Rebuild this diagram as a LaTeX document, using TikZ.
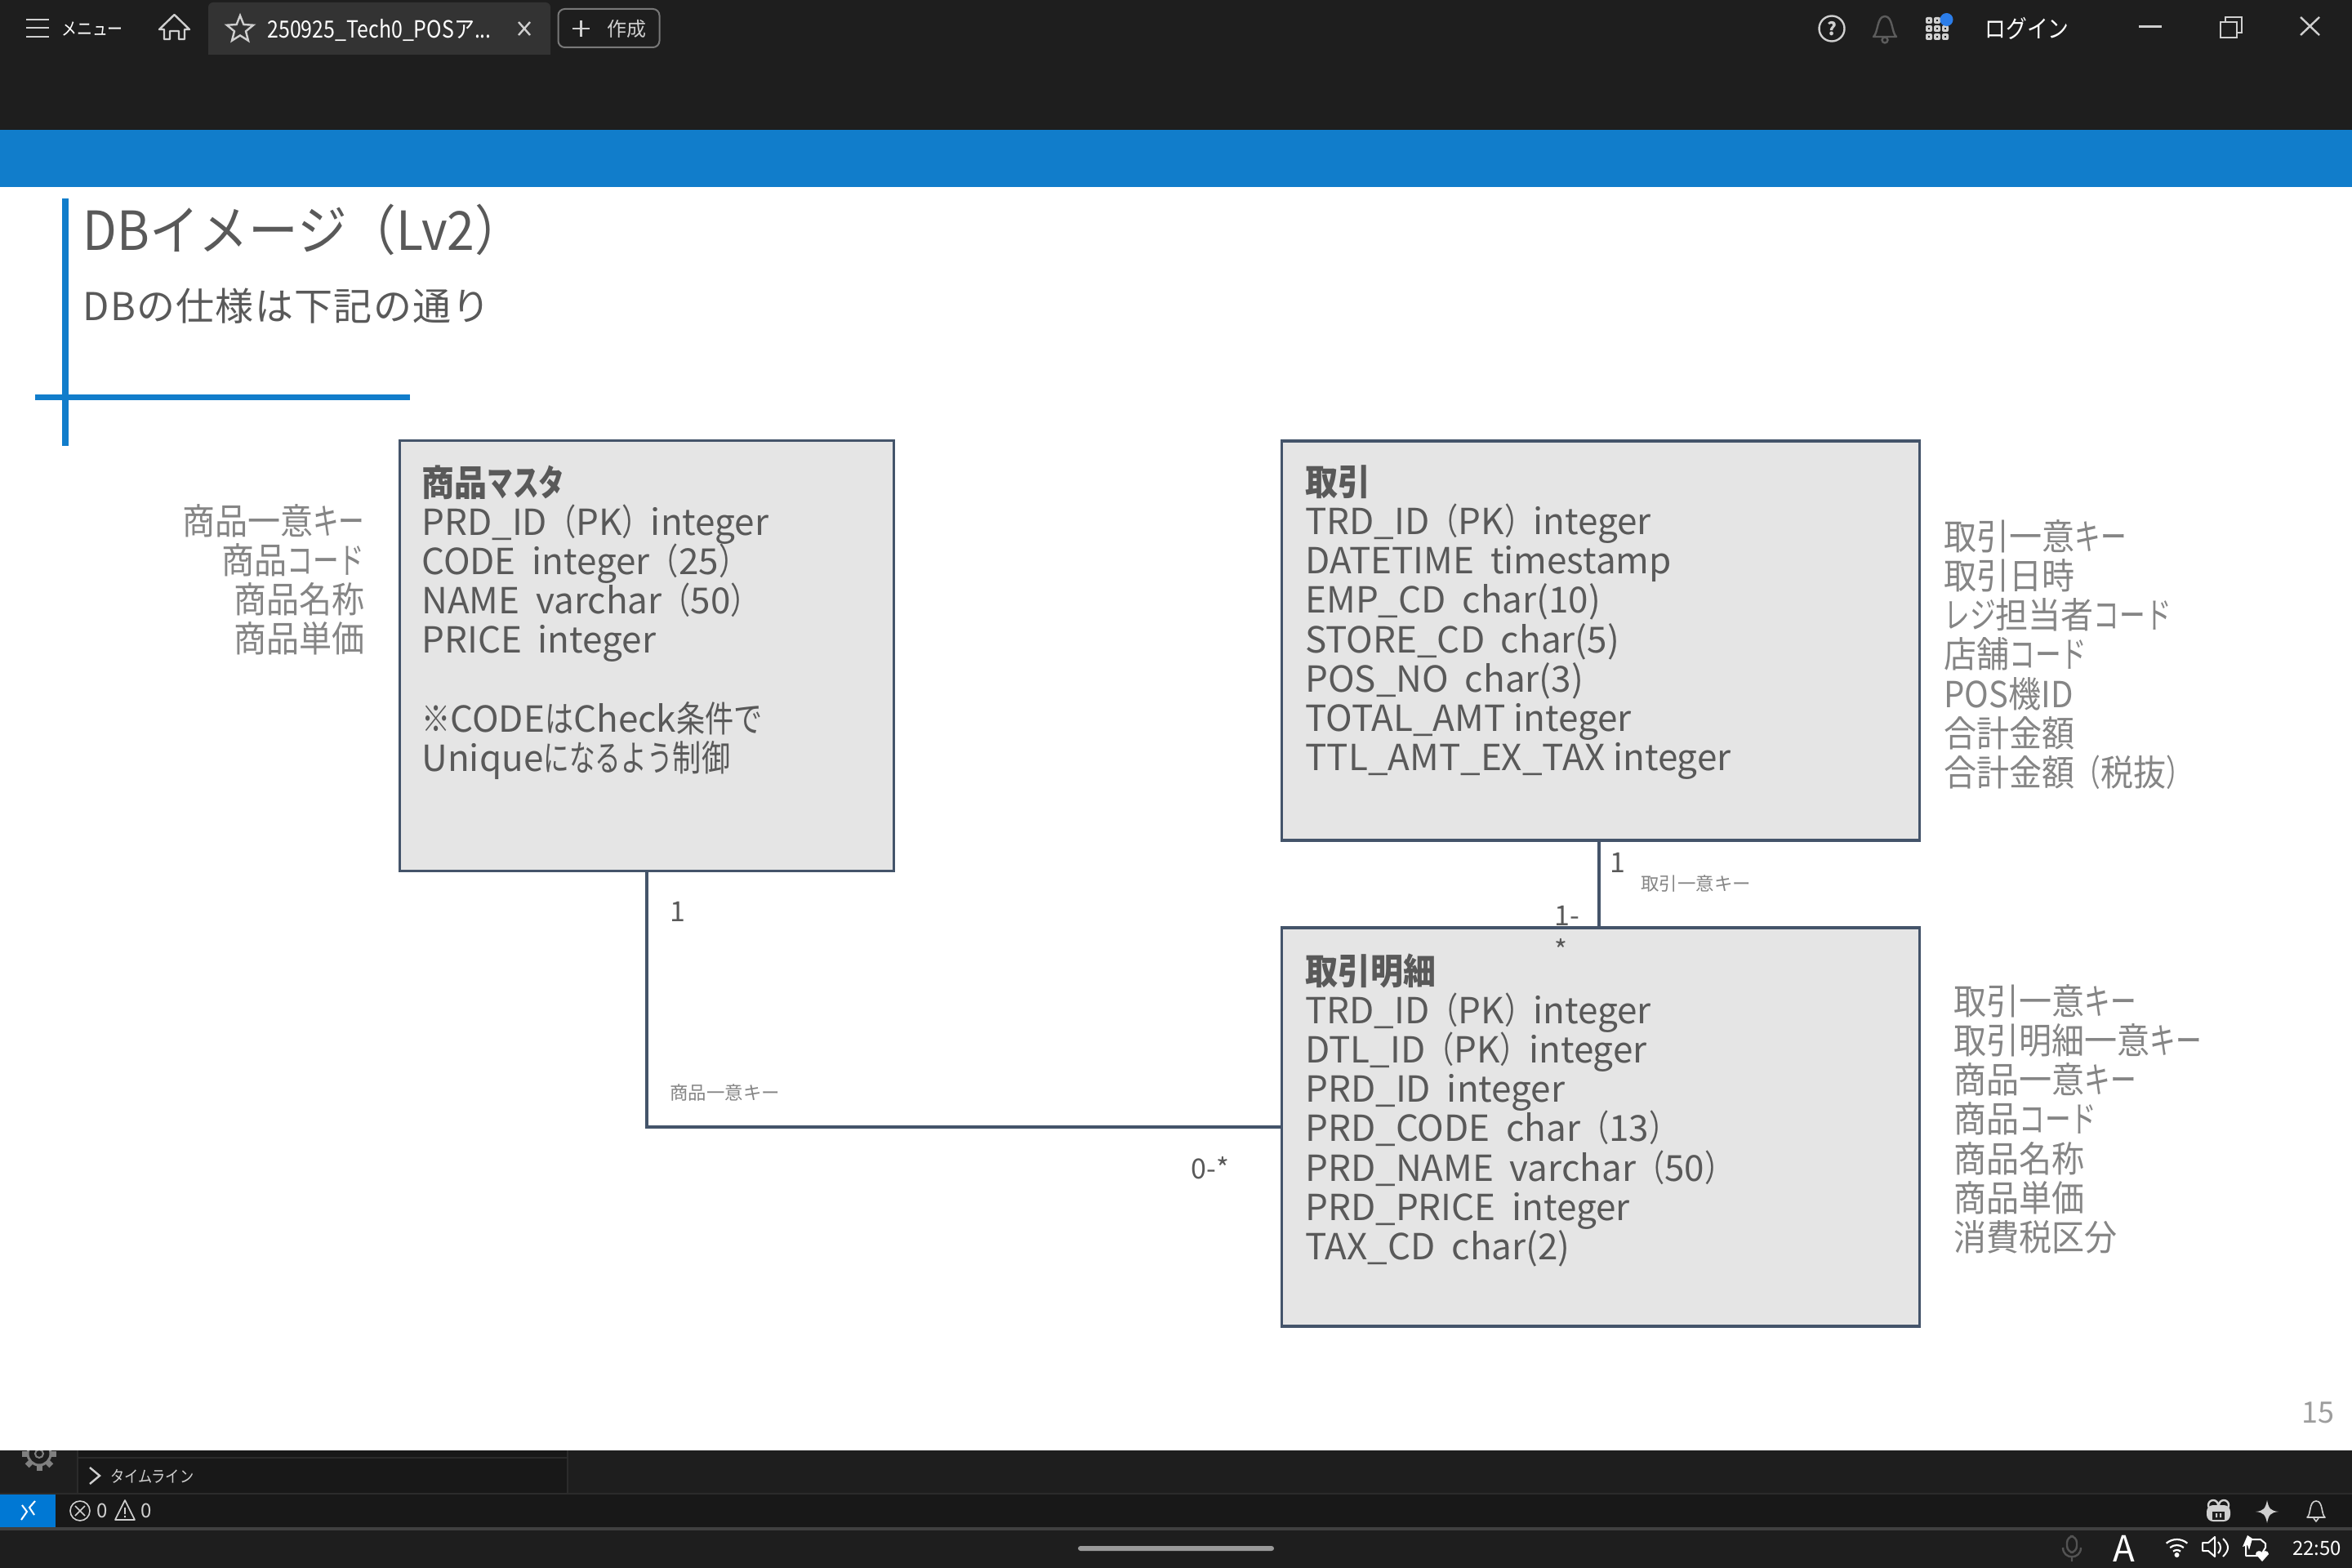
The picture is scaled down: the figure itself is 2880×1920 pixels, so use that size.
\documentclass[tikz,border=0pt]{standalone}
\usepackage{fontspec}
\setmainfont{Noto Sans CJK JP}
\newfontfamily\keyfont[FakeStretch=0.91]{Noto Sans CJK JP}
\newfontfamily\jpfont[FakeStretch=0.8]{Noto Sans CJK JP}
\newfontfamily\kanafont[FakeStretch=0.72]{Noto Sans CJK JP}
\newfontfamily\uifont[FakeStretch=0.86]{Noto Sans CJK JP}
\newfontfamily\titlefont[FakeStretch=0.92]{Noto Sans CJK JP}
\newfontfamily\subfont[LetterSpace=2.8]{Noto Sans CJK JP}
\newcommand{\jp}[1]{{\jpfont #1}}
\newcommand{\kana}[1]{{\kanafont #1}}
\usetikzlibrary{positioning,shapes.geometric}
\definecolor{uidark}{HTML}{1E1E1E}
\definecolor{uipanel}{HTML}{181818}
\definecolor{uitab}{HTML}{333333}
\definecolor{uirule}{HTML}{2B2B2B}
\definecolor{uisep}{HTML}{404040}
\definecolor{uiicon}{HTML}{CFCFCF}
\definecolor{uidot}{HTML}{2B7DE9}
\definecolor{slideblue}{HTML}{117DCB}
\definecolor{statusblue}{HTML}{0078D4}
\definecolor{boxfill}{HTML}{E5E5E5}
\definecolor{boxline}{HTML}{44546A}
\definecolor{bodytext}{HTML}{595959}
\definecolor{notetext}{HTML}{858585}
\tikzset{
    erbox/.style={draw=boxline, line width=1.6pt, fill=boxfill, inner sep=0pt},
    relline/.style={draw=boxline, line width=1.6pt},
    boxtext/.style={anchor=north west, align=left, inner sep=0pt, text=bodytext, font={\fontsize{22}{24.1}\selectfont\lineskiplimit=-100pt}},
    keytext/.style={anchor=north west, align=left, inner sep=0pt, text=notetext, font={\keyfont\fontsize{22}{24.1}\selectfont\lineskiplimit=-100pt}},
    keyright/.style={keytext, anchor=north east, align=right},
    cardtext/.style={inner sep=0pt, text=bodytext, font=\fontsize{17}{20}\selectfont},
    reltext/.style={inner sep=0pt, text=notetext, font=\fontsize{11.2}{13}\selectfont},
    uitext/.style={inner sep=0pt, text=white},
    uiline/.style={draw=uiicon, line width=1.2pt},
}
\begin{document}
\begin{tikzpicture}[x=0.5pt, y=-0.5pt]
    \useasboundingbox (0,0) rectangle (2880,1920);
    \fill[white] (0,0) rectangle (2880,1920);

    \fill[uidark] (0,0) rectangle (2880,159);
    \fill[slideblue] (0,159) rectangle (2880,229);
    \fill[uitab, rounded corners=3pt] (255,3) rectangle (674,80);
    \fill[uidark] (250,67) rectangle (680,80);
    \foreach \y in {24,34,45}
        \draw[uiline] (32,\y) -- (60,\y);
    \node[uitext, font=\uifont\fontsize{11}{13}\selectfont] (menulabel) at (113,35) {メニュー};
    \draw[uiline, line join=round] (213.5,18) -- (195,36) -- (201,36) -- (201,48) -- (208,48) -- (208,38) -- (219,38) -- (219,48) -- (226,48) -- (226,36) -- (232,36) -- cycle;
    \node[star, star points=5, star point ratio=2.3, draw=uiicon, line width=1.2pt, minimum size=17pt, inner sep=0pt] (tabstar) at (294,36) {};
    \node[uitext, font=\uifont\fontsize{14.5}{17}\selectfont, anchor=west] (tabtitle) at (327,37) {250925\_Tech0\_POSア...};
    \draw[uiline] (635,27) -- (649,43) (649,27) -- (635,43);
    \node[draw=white!40!uidark, line width=1pt, rounded corners=4pt, minimum width=62pt, minimum height=23.5pt, inner sep=0pt] (newbutton) at (745.5,34.5) {};
    \draw[uiline] (701,35) -- (722,35) (711.5,25) -- (711.5,45);
    \node[uitext, text=uiicon, font=\fontsize{12}{14}\selectfont] (newlabel) at (767,35) {作成};

    \draw[uiline] (2243,35) circle (15.5);
    \node[uitext, text=uiicon, font=\fontsize{11}{13}\selectfont\bfseries] (helpmark) at (2243,35) {?};
    \draw[draw=uiicon!35!uidark, line width=1.2pt, line join=round] (2294,45) .. controls (2300,40) and (2298,20) .. (2308,20) .. controls (2318,20) and (2316,40) .. (2322,45) -- cycle;
    \draw[draw=uiicon!35!uidark, line width=1.2pt] (2308,49) circle (3.5);
    \foreach \x in {2362,2372,2382}
        \foreach \y in {25,35,45} {
            \fill[uiicon, rounded corners=1pt] (\x-4,\y-4) rectangle (\x+4,\y+4);
            \fill[uidark] (\x-1,\y-1) rectangle (\x+1,\y+1);
        }
    \fill[uidot] (2383.5,24) circle (8);
    \node[uitext, font=\uifont\fontsize{15}{17}\selectfont] (loginlabel) at (2482,35) {ログイン};
    \draw[uiline, line width=1.5pt] (2619,33) -- (2647,33);
    \draw[uiline] (2719,27) rectangle (2739,46) (2725,27) -- (2725,21) -- (2745,21) -- (2745,40) -- (2739,40);
    \draw[uiline] (2817,21) -- (2840,43) (2840,21) -- (2817,43);

    \draw[slideblue, line width=3.7pt] (80,243) -- (80,546);
    \draw[slideblue, line width=3.5pt] (43,486.5) -- (502,486.5);
    \node[anchor=west, inner sep=0pt, text=bodytext, font=\titlefont\fontsize{33}{40}\selectfont] (slidetitle) at (101,281) {DBイメージ（Lv2）};
    \node[anchor=west, inner sep=0pt, text=bodytext, font=\subfont\fontsize{23.5}{28}\selectfont] (slidesub) at (101,375) {DBの仕様は下記の通り};

    \node[erbox, minimum width=302.5pt, minimum height=263.5pt] (mst) at (792,803) {};
    \node[erbox, minimum width=390.5pt, minimum height=244.5pt] (trd) at (1960,784.5) {};
    \node[erbox, minimum width=390.5pt, minimum height=244pt] (dtl) at (1960,1380) {};
    \draw[relline] (mst.south) |- (dtl.west);
    \draw[relline] ([xshift=-1pt]trd.south) -- ([xshift=-1pt]dtl.north);

    \node[boxtext] (msttext) at (516,569) {{\keyfont\bfseries 商品{\kanafont\bfseries マスタ}}\\PRD\_ID\jp{（}PK\jp{）}integer\\CODE\ \ integer\jp{（}25\jp{）}\\NAME\ \ varchar\jp{（}50\jp{）}\\PRICE\ \ integer\\[24.1pt]\jp{※}CODE\jp{は}Check\jp{条件で}\\Unique\kana{になるよう}\jp{制御}};
    \node[boxtext] (trdtext) at (1598,569) {{\keyfont\bfseries 取引}\\TRD\_ID\jp{（}PK\jp{）}integer\\DATETIME\ \ timestamp\\EMP\_CD\ \ char(10)\\STORE\_CD\ \ char(5)\\POS\_NO\ \ char(3)\\TOTAL\_AMT integer\\TTL\_AMT\_EX\_TAX integer};
    \node[boxtext] (dtltext) at (1598,1167) {{\keyfont\bfseries 取引明細}\\TRD\_ID\jp{（}PK\jp{）}integer\\DTL\_ID\jp{（}PK\jp{）}integer\\PRD\_ID\ \ integer\\PRD\_CODE\ \ char\jp{（}13\jp{）}\\PRD\_NAME\ \ varchar\jp{（}50\jp{）}\\PRD\_PRICE\ \ integer\\TAX\_CD\ \ char(2)};

    \node[keyright] (mstkeys) at (447,617) {商品一意\kana{キー}\\商品\kana{コード}\\商品名称\\商品単価};
    \node[keytext] (trdkeys) at (2380,636) {取引一意\kana{キー}\\取引日時\\\kana{レジ}担当者\kana{コード}\\店舗\kana{コード}\\POS機ID\\合計金額\\合計金額\kana{（}税抜\kana{）}};
    \node[keytext] (dtlkeys) at (2392,1205) {取引一意\kana{キー}\\取引明細一意\kana{キー}\\商品一意\kana{キー}\\商品\kana{コード}\\商品名称\\商品単価\\消費税区分};

    \node[cardtext] (mstone) at (830,1116) {1};
    \node[reltext, anchor=west] (mstrel) at (820,1338) {商品一意キー};
    \node[cardtext] (dtlmany) at (1482,1430) {0-*};
    \node[cardtext] (trdone) at (1981,1056) {1};
    \node[reltext, anchor=west] (trdrel) at (2009,1082) {取引一意キー};
    \node[cardtext, anchor=west] (dtlone) at (1903,1121) {1-};
    \node[cardtext, anchor=west] (dtlstar) at (1903,1163) {*};
    \node[inner sep=0pt, text=notetext!80!white, font=\fontsize{18}{20}\selectfont] (pageno) at (2838,1730) {15};

    \fill[uidark] (0,1776) rectangle (2880,1920);
    \fill[uipanel] (95,1776) rectangle (695,1829);
    \draw[uirule, line width=1pt] (95,1776) -- (95,1829) (695,1776) -- (695,1829) (95,1785) -- (695,1785);
    \fill[uipanel] (0,1830) rectangle (2880,1870);
    \draw[uirule, line width=1pt] (0,1829) -- (2880,1829);
    \draw[uisep, line width=2pt] (0,1872) -- (2880,1872);
    \fill[statusblue] (0,1830) rectangle (68,1870);
    \begin{scope}
        \clip (0,1776) rectangle (95,1810);
        \draw[gray, line width=1.5pt] (48,1780) circle (14);
        \draw[gray, line width=1pt] (48,1780) circle (5);
        \foreach \a in {0,45,...,315}
            \draw[gray, line width=3.5pt] (48,1780) ++(\a:7pt) -- ++(\a:3.5pt);
    \end{scope}
    \draw[uiline] (110,1797) -- (122,1807) -- (110,1817);
    \node[uitext, text=uiicon, font=\uifont\fontsize{10}{12}\selectfont, anchor=west] (timelabel) at (135,1808) {タイムライン};
    \draw[draw=white, line width=1pt] (26,1861) -- (33,1851) -- (27,1843) (43,1838) -- (36,1846) -- (42,1855);
    \draw[uiline, line width=0.8pt] (98,1850) circle (12) (92,1844) -- (104,1856) (104,1844) -- (92,1856);
    \node[uitext, text=uiicon, font=\fontsize{12}{14}\selectfont] (errcount) at (125,1850) {0};
    \draw[uiline, line width=0.8pt, line join=round] (153,1837) -- (165,1861) -- (141,1861) -- cycle (153,1846) -- (153,1854) (153,1856) -- (153,1858);
    \node[uitext, text=uiicon, font=\fontsize{12}{14}\selectfont] (warncount) at (179,1850) {0};
    \fill[uiicon, rounded corners=4pt] (2702,1843) rectangle (2731,1863);
    \draw[uiline] (2710,1843) circle (6) (2723,1843) circle (6);
    \fill[uidark] (2709,1851) rectangle (2724,1861);
    \fill[uiicon] (2713,1853) rectangle (2715,1858) (2718,1853) rectangle (2720,1858);
    \fill[uiicon] (2776,1837) .. controls (2778,1847) and (2780,1850) .. (2790,1851) .. controls (2780,1852) and (2778,1855) .. (2776,1865) .. controls (2774,1855) and (2772,1852) .. (2762,1851) .. controls (2772,1850) and (2774,1847) .. (2776,1837) -- cycle;
    \draw[uiline, line width=0.8pt, line join=round] (2825,1858) .. controls (2830,1855) and (2827,1838) .. (2836,1838) .. controls (2845,1838) and (2842,1855) .. (2847,1858) -- cycle (2833,1859) -- (2836,1863) -- (2839,1859);

    \fill[white!60!black, rounded corners=1.5pt] (1320,1893) rectangle (1560,1899);
    \draw[gray!65!black, line width=1.2pt, rounded corners=4pt] (2531,1881) rectangle (2543,1901);
    \draw[gray!65!black, line width=1.2pt] (2526,1895) .. controls (2526,1910) and (2548,1910) .. (2548,1895) (2537,1906) -- (2537,1912);
    \node[uitext, font=\fontsize{22}{24}\selectfont] (imelabel) at (2601,1896) {A};
    \fill[white] (2665.5,1904) circle (3);
    \foreach \r in {3.5,6.5,10}
        \draw[white, line width=1.1pt] (2665.5,1905) ++(50:\r pt) arc[start angle=50, end angle=130, radius=\r pt];
    \draw[white, line width=1pt, line join=round] (2697,1889) -- (2704,1889) -- (2712,1882) -- (2712,1906) -- (2704,1899) -- (2697,1899) -- cycle;
    \draw[white, line width=1pt] (2716,1888) .. controls (2720,1892) and (2720,1898) .. (2716,1902) (2722,1884) .. controls (2730,1892) and (2730,1898) .. (2722,1906);
    \draw[white, line width=1pt, line join=round] (2750,1892) -- (2750,1905) -- (2768,1905) -- (2774,1895) -- (2774,1890) -- (2768,1885) -- (2756,1885);
    \fill[white] (2752,1880) -- (2746,1894) -- (2752,1892) -- (2754,1898) -- (2758,1884) -- cycle;
    \fill[white] (2770,1912) -- (2762,1903) .. controls (2762,1898) and (2770,1898) .. (2770,1902) .. controls (2770,1898) and (2778,1898) .. (2778,1903) -- cycle;
    \node[uitext, font=\fontsize{12}{14}\selectfont] (clocklabel) at (2837,1896) {22:50};
\end{tikzpicture}
\end{document}
